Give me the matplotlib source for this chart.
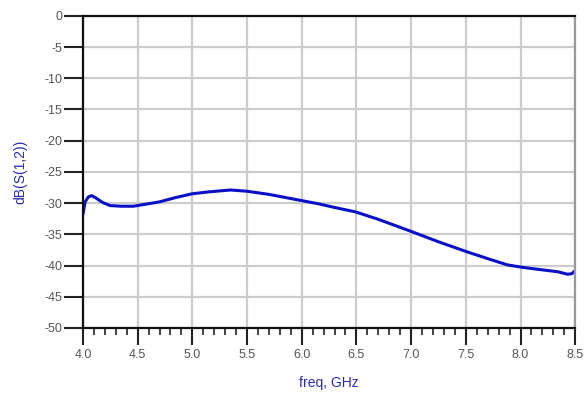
import matplotlib
matplotlib.use("Agg")
import matplotlib.pyplot as plt
import numpy as np
from matplotlib.ticker import MultipleLocator

plt.rcParams['font.family'] = ['Liberation Sans', 'DejaVu Sans']

freq = [4.0, 4.02, 4.05, 4.08, 4.12, 4.18, 4.25, 4.35, 4.46, 4.6, 4.7, 4.85, 5.0, 5.15,
        5.35, 5.5, 5.7, 5.85, 6.0, 6.15, 6.3, 6.49, 6.7, 7.01, 7.25, 7.51, 7.7, 7.88,
        8.02, 8.2, 8.34, 8.43, 8.47, 8.5]
s12 = [-31.8, -29.8, -29.0, -28.8, -29.2, -29.9, -30.4, -30.5, -30.5, -30.1, -29.8, -29.1,
       -28.5, -28.2, -27.9, -28.1, -28.6, -29.1, -29.6, -30.1, -30.7, -31.4, -32.6, -34.6,
       -36.2, -37.8, -38.9, -39.9, -40.3, -40.7, -41.0, -41.4, -41.3, -40.8]

xticks = [4.0, 4.5, 5.0, 5.5, 6.0, 6.5, 7.0, 7.5, 8.0, 8.5]
yticks = [0, -5, -10, -15, -20, -25, -30, -35, -40, -45, -50]

fig = plt.figure(figsize=(5.84, 3.97), dpi=100)
ax = fig.add_axes([0.142, 0.174, 0.843, 0.786])
ax.plot(freq, s12, color="#0a10c8", lw=2.2, solid_capstyle="round")
ax.set_xlim(4.0, 8.5)
ax.set_ylim(-50, 0)
ax.set_xticks(xticks)
ax.set_xticklabels([f"{v:.1f}" for v in xticks])
ax.set_yticks(yticks)
ax.set_yticklabels([str(v) for v in yticks])
ax.xaxis.set_minor_locator(MultipleLocator(0.1))
ax.grid(True, which="major", color="#cccccc", lw=1.6)
ax.set_axisbelow(True)
ax.tick_params(axis="both", which="major", direction="out", length=12, width=1.5,
               colors="#222222", labelcolor="#555555", labelsize=9)
ax.tick_params(axis="x", which="minor", direction="out", length=5, width=1.2, colors="#222222")
ax.tick_params(axis="y", which="major", length=14, pad=1)
ax.tick_params(axis="x", which="major", pad=3)
for s in ["left", "bottom", "top"]:
    ax.spines[s].set_color("#111111")
    ax.spines[s].set_linewidth(1.6)
ax.spines["right"].set_color("#999999")
ax.spines["right"].set_linewidth(1.6)
ax.set_xlabel("freq, GHz", color="#2a2ab0", fontsize=10, labelpad=11)
ax.set_ylabel("dB(S(1,2))", color="#2a2ab0", fontsize=10, labelpad=12)
fig.savefig("out.png", dpi=100)
